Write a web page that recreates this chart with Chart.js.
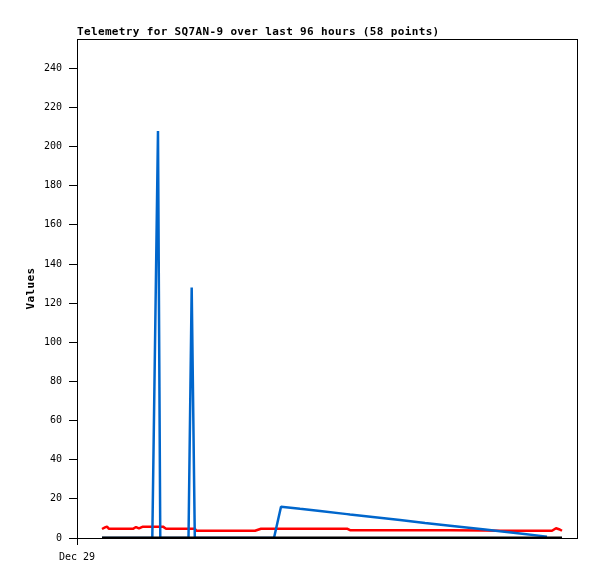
<!DOCTYPE html>
<html>
<head>
<meta charset="utf-8">
<title>Telemetry SQ7AN-9</title>
<script src="https://cdn.jsdelivr.net/npm/chart.js@4.4.1/dist/chart.umd.min.js"></script>
<style>
  html, body { margin: 0; padding: 0; background: #fff; }
  canvas { display: block; }
</style>
</head>
<body>
<canvas id="chart" width="597" height="579"></canvas>
<script>
// ====== DATA ======
const chartTitle = "Telemetry for SQ7AN-9 over last 96 hours (58 points)";
const yAxisTitle = "Values";

// hours since Dec 29 00:00
const hours = [
  4.80, 5.38, 5.76, 6.14, 8.45, 10.75, 11.33, 11.90, 12.67, 14.46,
  15.55, 15.99, 16.51, 17.09, 19.20, 21.41, 22.02, 22.62, 22.94, 25.54,
  28.42, 31.30, 34.18, 35.33, 37.82, 39.17, 42.82, 46.66, 51.84, 52.42,
  57.22, 62.02, 66.82, 71.62, 78.34, 81.22, 85.06, 90.24, 91.20, 91.97,
  92.54, 93.12
];

const redValues = [
  4.6, 5.4, 5.8, 4.7, 4.7, 4.7, 5.6, 4.9, 5.8, 5.8,
  5.8, 5.8, 5.8, 4.75, 4.75, 4.75, 4.75, 4.75, 3.7, 3.7,
  3.7, 3.7, 3.7, 4.75, 4.75, 4.75, 4.75, 4.75, 4.75, 4.0,
  4.0, 4.0, 4.0, 4.0, 3.8, 3.7, 3.7, 3.7, 3.7, 5.0,
  4.5, 3.7
];

const blueValues = [
  0, 0, 0, 0, 0, 0, 0, 0, 0, 0,
  208, 0, 0, 0, 0, 0, 128, 0, 0, 0,
  0, 0, 0, 0, 0, 16.0, 14.9, 13.8, 12.2, 12.0,
  10.6, 9.2, 7.7, 6.3, 4.3, 3.4, 2.3, 0.7, null, null,
  null, null
];

const blackValues = hours.map(() => 0);

const yTickValues = [0, 20, 40, 60, 80, 100, 120, 140, 160, 180, 200, 220, 240];
const xTickValues = [0];
const xTickLabels = ["Dec 29"];

// ====== STYLE ======
const tickFont = { family: "DejaVu Sans Mono", size: 10 };
const boldFont = 'bold 11px "DejaVu Sans Mono"';

function series(values, color, width) {
  return {
    data: hours.map((h, i) => ({ x: h, y: values[i] })),
    borderColor: color,
    backgroundColor: color,
    borderWidth: width,
    borderJoinStyle: "bevel",
    pointRadius: 0,
    tension: 0,
    fill: false,
    spanGaps: false,
  };
}

// frame, title, y label
const decorations = {
  id: "decorations",
  beforeDatasetsDraw(chart) {
    const { ctx, chartArea: a } = chart;
    ctx.save();
    ctx.strokeStyle = "#000";
    ctx.lineWidth = 1;
    ctx.strokeRect(a.left + 0.5, a.top + 0.5, a.right - a.left, a.bottom - a.top);
    ctx.restore();
  },
  afterDraw(chart) {
    const { ctx, chartArea: a } = chart;
    ctx.save();
    ctx.fillStyle = "#000";
    ctx.font = boldFont;
    ctx.letterSpacing = "0.35px";
    ctx.textAlign = "left";
    ctx.textBaseline = "alphabetic";
    ctx.fillText(chartTitle, a.left, 35);

    ctx.translate(31, (a.top + a.bottom) / 2);
    ctx.rotate(-Math.PI / 2);
    ctx.textAlign = "center";
    ctx.textBaseline = "middle";
    ctx.fillText(yAxisTitle, 0, 0);
    ctx.restore();
  },
};

new Chart(document.getElementById("chart"), {
  type: "line",
  data: {
    datasets: [
      series(blackValues, "#000000", 3),
      series(blueValues, "#0066cc", 2.5),
      series(redValues, "#ff0000", 2.5),
    ],
  },
  options: {
    responsive: false,
    animation: false,
    devicePixelRatio: 1,
    layout: { padding: { top: 39, right: 20, left: 0, bottom: 0 } },
    plugins: {
      legend: { display: false },
      tooltip: { enabled: false },
      title: { display: false },
    },
    scales: {
      x: {
        type: "linear",
        min: 0,
        max: 96,
        afterFit: (s) => { s.height = 41; },
        afterBuildTicks: (s) => { s.ticks = xTickValues.map((v) => ({ value: v })); },
        ticks: {
          callback: (v, i) => xTickLabels[i],
          font: tickFont,
          color: "#000",
          padding: 6,
          maxRotation: 0,
          autoSkip: false,
        },
        grid: { display: true, drawOnChartArea: false, tickLength: 7, color: "#000" },
        border: { display: false },
      },
      y: {
        min: 0,
        max: 255,
        afterFit: (s) => { s.width = 77; },
        afterBuildTicks: (s) => { s.ticks = yTickValues.map((v) => ({ value: v })); },
        ticks: {
          font: tickFont,
          color: "#000",
          padding: 7,
          autoSkip: false,
        },
        grid: { display: true, drawOnChartArea: false, tickLength: 8, color: "#000" },
        border: { display: false },
      },
    },
  },
  plugins: [decorations],
});
</script>
</body>
</html>
